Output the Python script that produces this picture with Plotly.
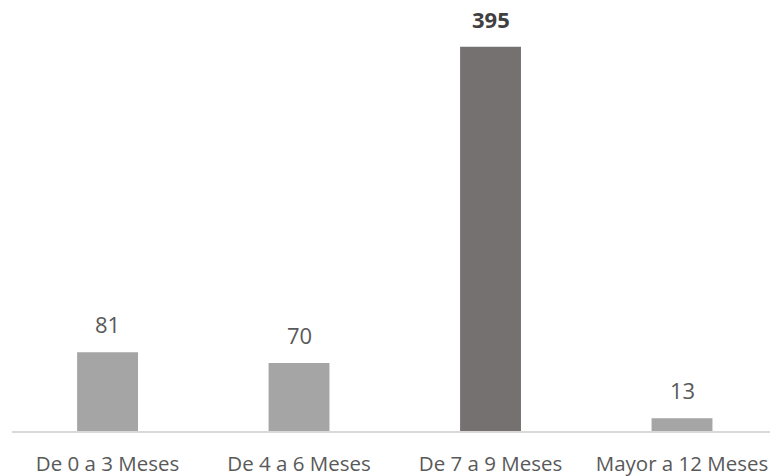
import plotly.graph_objects as go

categories = ["De 0 a 3 Meses", "De 4 a 6 Meses", "De 7 a 9 Meses", "Mayor a 12 Meses"]
values = [81, 70, 395, 13]
bar_colors = ["#A5A5A5", "#A5A5A5", "#767171", "#A5A5A5"]
label_bold = [False, False, True, False]

fig = go.Figure(
    go.Bar(
        x=categories,
        y=values,
        marker=dict(color=bar_colors, line=dict(width=0)),
        width=0.318,
        hoverinfo="skip",
    )
)

for cat, val, bold in zip(categories, values, label_bold):
    fig.add_annotation(
        x=cat,
        y=val,
        text=f"<b>{val}</b>" if bold else str(val),
        showarrow=False,
        yanchor="bottom",
        yshift=11,
        font=dict(family="Open Sans, sans-serif", size=22,
                  color="#404040" if bold else "#595959"),
    )

fig.update_layout(
    width=772,
    height=476,
    margin=dict(l=12, r=2, t=10, b=45),
    paper_bgcolor="white",
    plot_bgcolor="white",
    showlegend=False,
    xaxis=dict(
        type="category",
        range=[-0.499, 3.4595],
        showgrid=False,
        showline=True,
        linecolor="#D9D9D9",
        linewidth=2,
        ticks="",
        automargin=False,
        ticklabelstandoff=13,
        tickfont=dict(family="Open Sans, sans-serif", size=20.5, color="#595959"),
        fixedrange=True,
    ),
    yaxis=dict(
        range=[0, 432.7],
        visible=False,
        showgrid=False,
        zeroline=False,
        fixedrange=True,
    ),
)

fig.write_html("out.html")
